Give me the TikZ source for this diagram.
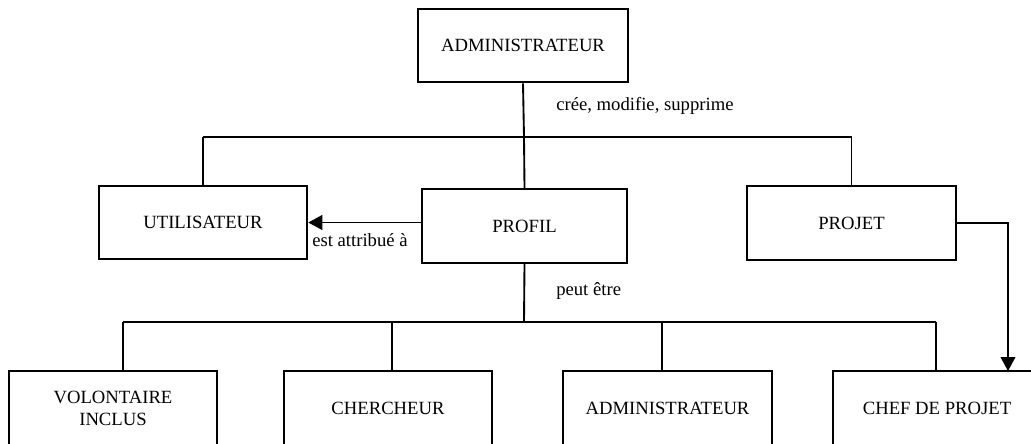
\documentclass[tikz,border=0pt]{standalone}
\usepackage{fontspec}
\setmainfont{Liberation Serif}
\usetikzlibrary{arrows.meta}
\begin{document}
\begin{tikzpicture}[x=0.75pt,y=-0.75pt,
  every node/.style={font=\fontsize{14}{16.5}\selectfont},
  box/.style={draw,line width=1.4pt,rectangle,inner sep=0pt,
    minimum width=156.5pt,minimum height=55.3pt,align=center},
  link/.style={line width=1.4pt},
  arrowlink/.style={link,-{Triangle[length=10.5pt,width=11pt]}},
  lbl/.style={inner sep=0pt,anchor=west}]
\useasboundingbox (0,0) rectangle (1031,443);
\clip (0,0) rectangle (1031,443);

% top level
\node[box,minimum width=158pt] (admin) at (523,45.5) {ADMINISTRATEUR};

% middle level
\node[box] (util) at (203,222.5) {UTILISATEUR};
\node[box,minimum width=154pt] (profil) at (524.5,226) {PROFIL};
\node[box] (projet) at (851.5,223) {PROJET};

% bottom level
\node[box] (vol) at (113,408) {VOLONTAIRE\\INCLUS};
\node[box] (cherch) at (388,408) {CHERCHEUR};
\node[box] (admin2) at (667.5,408) {ADMINISTRATEUR};
\node[box] (chef) at (937,408) {CHEF DE PROJET};

% upper bus
\coordinate (top) at (524,137);
\draw[link] (admin.south) -- (top);
\draw[link] (util.north |- top) -- (projet.north |- top);
\draw[link] (util.north |- top) -- (util.north);
\draw[link] (projet.north |- top) -- (projet.north);
\draw[link] (top) -- (profil.north);

% lower bus
\coordinate (low) at (524,322);
\coordinate (b1) at (123,322);
\coordinate (b2) at (392,322);
\coordinate (b3) at (662,322);
\coordinate (b4) at (936,322);
\draw[link] (profil.south) -- (low);
\draw[link] (b1) -- (b4);
\draw[link] (b1) -- (b1 |- vol.north);
\draw[link] (b2) -- (b2 |- cherch.north);
\draw[link] (b3) -- (b3 |- admin2.north);
\draw[link] (b4) -- (b4 |- chef.north);

% directed links
\draw[arrowlink] (profil.west |- util.east) -- (util.east);
\coordinate (chefin) at (1008,371);
\draw[arrowlink] (projet.east) -| (chefin);

% labels
\node[lbl] (l1) at (556,106) {crée, modifie, supprime};
\node[lbl] (l2) at (312,240) {est attribué à};
\node[lbl] (l3) at (556,291) {peut être};
\end{tikzpicture}
\end{document}
